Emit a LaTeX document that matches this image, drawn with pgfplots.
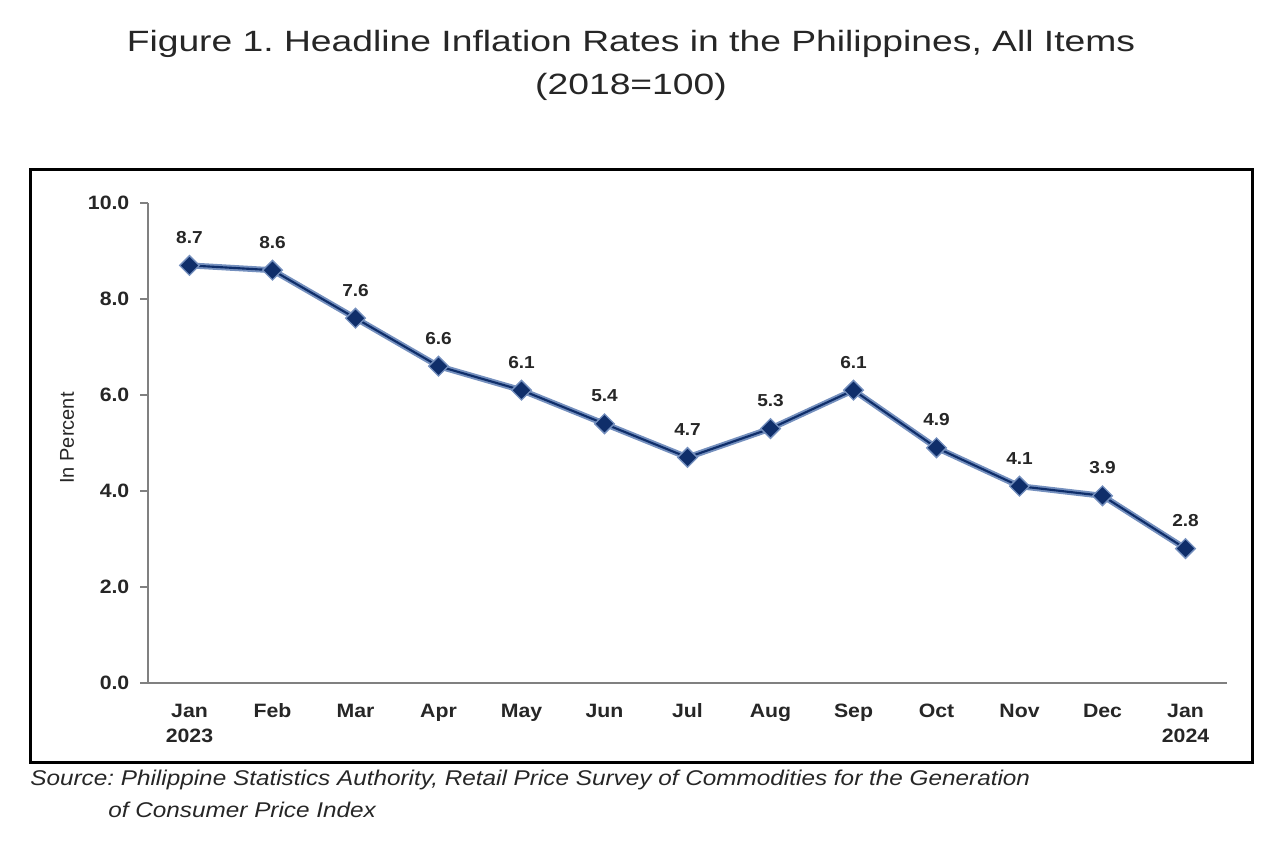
\documentclass[border=0pt]{standalone}
\usepackage{pgfplots}
\pgfplotsset{compat=1.18}
\usepackage{fontspec}
\setmainfont{Liberation Sans}
\frenchspacing
\definecolor{navy}{HTML}{0F2E6A}
\definecolor{navyedge}{HTML}{7590BE}
\definecolor{axgray}{HTML}{808080}
\definecolor{txt}{HTML}{262626}
\begin{document}
\begin{tikzpicture}[x=0.75pt,y=0.75pt]
\path[use as bounding box] (0,0) rectangle (1280,848);
\node[font=\fontsize{22}{26}\selectfont, text=txt, xscale=1.27] at (631,804) {Figure 1. Headline Inflation Rates in the Philippines, All Items};
\node[font=\fontsize{22}{26}\selectfont, text=txt, xscale=1.27] at (631,761) {(2018=100)};
\draw[line width=2.25pt] (30,678) rectangle (1252,85);
\begin{axis}[
  at={(111pt,123.75pt)}, anchor=south west,
  scale only axis, width=809.25pt, height=360pt,
  xmin=-0.5, xmax=12.5, ymin=0, ymax=10,
  axis x line=bottom, axis y line=left,
  axis line style={-, draw=axgray, line width=1.5pt},
  xtick={0,...,12},
  xticklabels={{\strut Jan\\2023},{\strut Feb},{\strut Mar},{\strut Apr},{\strut May},{\strut Jun},{\strut Jul},{\strut Aug},{\strut Sep},{\strut Oct},{\strut Nov},{\strut Dec},{\strut Jan\\2024}},
  x tick style={draw=none},
  ytick={0,2,...,10},
  y tick style={draw=axgray, line width=1.5pt},
  tick align=outside, major tick length=6pt,
  /pgf/number format/assume math mode=true,
  yticklabel style={/pgf/number format/.cd, fixed, fixed zerofill, precision=1, /tikz/.cd, xshift=-3.75pt},
  ticklabel style={font=\bfseries\fontsize{14.5}{18.75}\selectfont, text=txt, xscale=1.1},
  xticklabel style={align=center, inner sep=0pt, yshift=-6.8pt},
  ylabel={In Percent},
  ylabel style={font=\fontsize{15}{18}\selectfont, text=txt, at={(rel axis cs:0,0.5)}, anchor=center, yshift=60.75pt, xshift=3.75pt},
  clip=false,
]
\addplot[navyedge, line width=4.5pt, forget plot] coordinates {
(0,8.7) (1,8.6) (2,7.6) (3,6.6) (4,6.1) (5,5.4) (6,4.7) (7,5.3) (8,6.1) (9,4.9) (10,4.1) (11,3.9) (12,2.8)};
\addplot[navy, line width=1.6pt, mark=square*, mark size=5.2pt,
  mark options={rotate=45, fill=navy, draw=navyedge, line width=1pt},
  nodes near coords={\pgfmathprintnumber[fixed,fixed zerofill,precision=1]{\pgfplotspointmeta}},
  nodes near coords style={font=\bfseries\fontsize{13}{15}\selectfont, text=txt, xscale=1.1, anchor=south, inner sep=0pt, yshift=16pt}]
coordinates {
(0,8.7) (1,8.6) (2,7.6) (3,6.6) (4,6.1) (5,5.4) (6,4.7) (7,5.3) (8,6.1) (9,4.9) (10,4.1) (11,3.9) (12,2.8)};
\end{axis}
\node[anchor=west, font=\itshape\fontsize{16}{18}\selectfont, text=txt, inner sep=0pt, xscale=1.14] at (30,68) {Source: Philippine Statistics Authority, Retail Price Survey of Commodities for the Generation};
\node[anchor=west, font=\itshape\fontsize{16}{18}\selectfont, text=txt, inner sep=0pt, xscale=1.14] at (108,38) {of Consumer Price Index};
\end{tikzpicture}
\end{document}
